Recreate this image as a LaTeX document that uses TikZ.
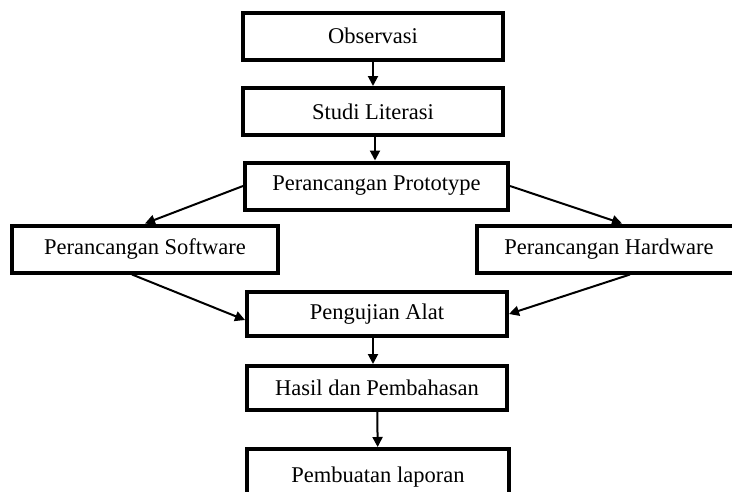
\documentclass[tikz,border=0pt]{standalone}
\usepackage{fontspec}
\setmainfont{Liberation Serif}
\usetikzlibrary{arrows.meta}

\begin{document}
\begin{tikzpicture}[
  x=1pt, y=-1pt,
  box/.style={rectangle, draw=black, line width=4pt, inner sep=0pt, minimum height=47pt, align=center, font=\fontsize{22.5}{26}\selectfont},
  arrow/.style={-{Triangle[width=10pt,length=10pt]}, line width=2pt}
]
\useasboundingbox (0,0) rectangle (732,491);

\node[box, minimum width=260pt] (obs) at (373,36) {Observasi};
\node[box, minimum width=260pt] (studi) at (373,111.5) {Studi Literasi};
\node[box, minimum width=263pt] (proto) at (376.5,186) {Perancangan Prototype};
\node[box, minimum width=266pt] (soft) at (145,249) {Perancangan Software};
\node[box, minimum width=264pt] (hard) at (609,249) {Perancangan Hardware};
\node[box, minimum width=260pt, minimum height=44pt] (uji) at (377,314) {Pengujian Alat};
\node[box, minimum width=260pt, minimum height=44pt] (hasil) at (377,388) {Hasil dan Pembahasan};
\node[box, minimum width=262pt, minimum height=56pt] (laporan) at (378,477) {Pembuatan laporan};

\draw[arrow] (obs) -- (studi);
\draw[arrow] ([xshift=2pt]studi.south) -- ([xshift=2pt]studi.south |- proto.north);
\draw[arrow] (proto.west) -- (soft.north);
\draw[arrow] (proto.east) -- ([xshift=13pt]hard.north);
\draw[arrow] ([xshift=-13pt]soft.south) -- ([yshift=-6pt]uji.west);
\draw[arrow] ([xshift=21pt]hard.south) -- (uji.east);
\draw[arrow] ([xshift=-4pt]uji.south) -- ([xshift=-4pt]uji.south |- hasil.north);
\draw[arrow] (hasil) -- (laporan);

\end{tikzpicture}
\end{document}
